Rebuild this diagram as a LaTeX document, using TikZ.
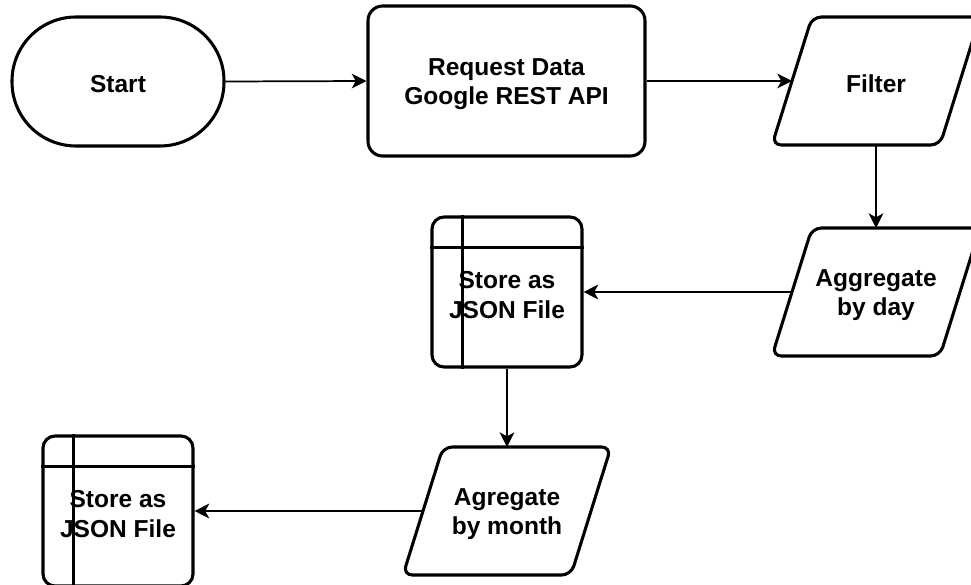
\documentclass[tikz,border=0pt]{standalone}
\usepackage{fontspec}
\setmainfont{Liberation Sans}
\usetikzlibrary{arrows.meta,calc}

\tikzset{
  shapeline/.style={draw=black, line width=2.3pt, fill=white},
  labeltext/.style={font=\fontsize{18.4}{22}\selectfont\bfseries, align=center, inner sep=0pt},
  terminal/.style={shapeline, minimum width=159pt, minimum height=96.75pt, rounded corners=48pt},
  process/.style={shapeline, minimum width=207.75pt, minimum height=112.5pt, rounded corners=11pt},
  storage/.style={shapeline, minimum width=112.5pt, minimum height=112.5pt, rounded corners=9pt},
  flow/.style={line width=1.3pt, -{Stealth[length=11pt, width=11pt, inset=3pt]}},
}

% text placed a little below the centre of its shape
\newcommand\shapetext[2]{\node[labeltext] (#1-text) at ([yshift=-2.2pt]#1.center) {#2};}

% data (input/output) parallelogram with its text centred in it
\newcommand\iobox[3]{%
  \draw[shapeline, rounded corners=7pt]
    ($(#2)+(-104,64)$) -- ($(#2)+(64,64)$) -- ($(#2)+(104,-64)$) -- ($(#2)+(-64,-64)$) -- cycle;
  \coordinate (#1) at (#2);
  \shapetext{#1}{#3}
  \coordinate (#1-in) at ($(#2)+(-84,0)$);
  \coordinate (#1-top) at ($(#2)+(0,-64)$);
  \coordinate (#1-bot) at ($(#2)+(0,64)$);
}

% internal storage: box with a header row and a side column
\newcommand\storebox[3]{%
  \node[storage] (#1) at (#2) {};
  \draw[line width=2.3pt] ([xshift=24pt]#1.north west) -- ([xshift=24pt]#1.south west);
  \draw[line width=2.3pt] ([yshift=-24pt]#1.north west) -- ([yshift=-24pt]#1.north east);
  \shapetext{#1}{#3}
}

\begin{document}
\begin{tikzpicture}[x=0.75pt, y=-0.75pt]
  \clip (0,0) rectangle (971,585);
  \fill[white] (0,0) rectangle (971,585);

  \node[terminal] (start) at (118,81.5) {};
  \shapetext{start}{Start}
  \node[process] (request) at (506.5,81) {};
  \shapetext{request}{Request Data\\Google REST API}
  \iobox{filter}{876,81}{Filter}
  \iobox{byday}{876,292}{Aggregate\\by day}
  \storebox{storeday}{507,292}{Store as\\JSON File}
  \iobox{bymonth}{507,511}{Agregate\\by month}
  \storebox{storemonth}{118,511}{Store as\\JSON File}

  \draw[flow] (start.east) -- (request.west);
  \draw[flow] (request.east) -- (filter-in);
  \draw[flow] (filter-bot) -- (byday-top);
  \draw[flow] (byday-in) -- (storeday.east);
  \draw[flow] (storeday.south) -- (bymonth-top);
  \draw[flow] (bymonth-in) -- (storemonth.east);
\end{tikzpicture}
\end{document}
